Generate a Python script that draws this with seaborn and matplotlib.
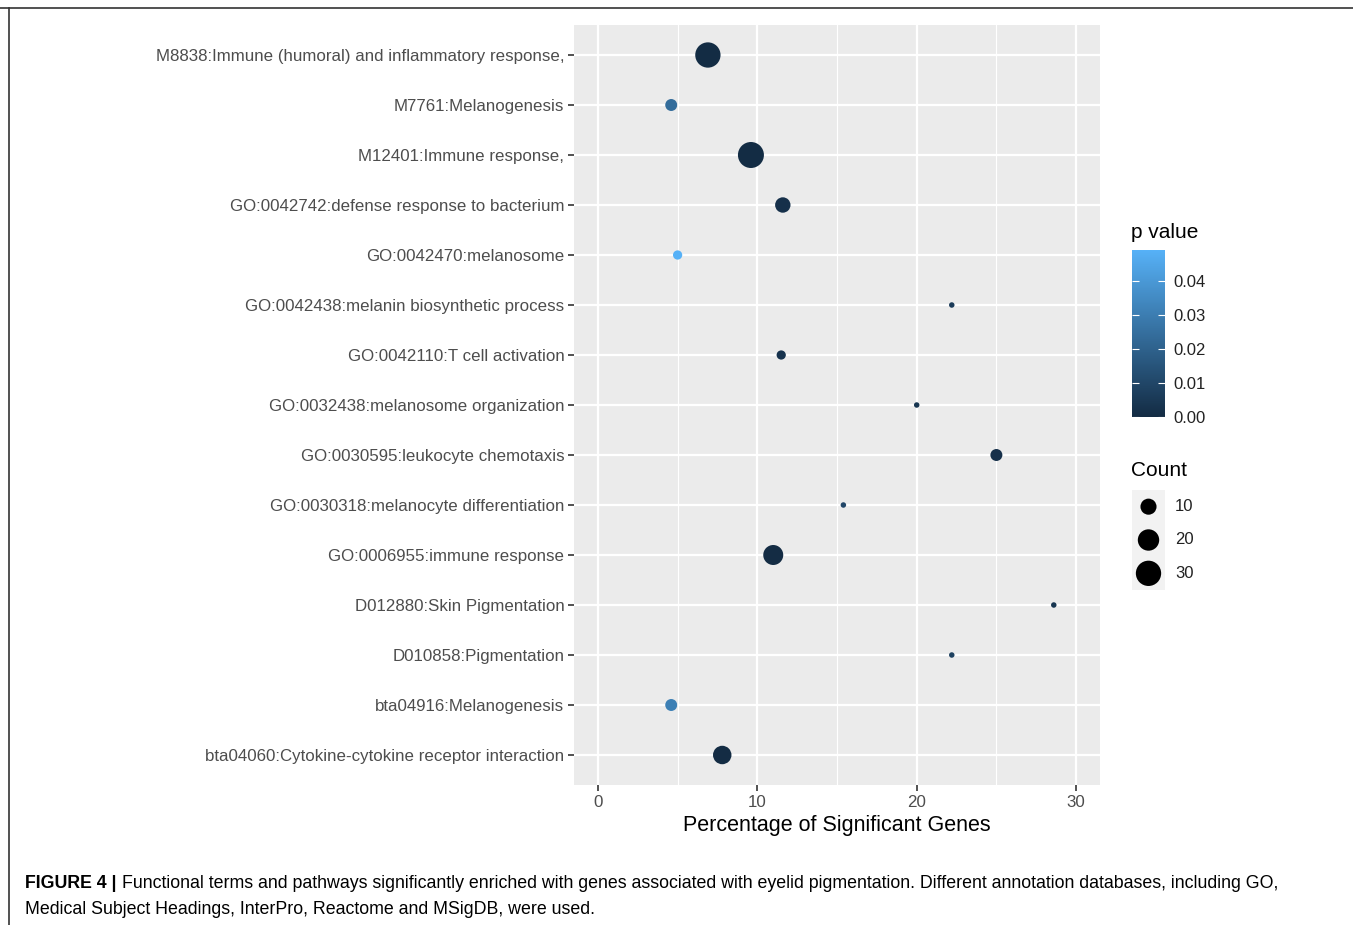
import numpy as np
import pandas as pd
import matplotlib
matplotlib.use("Agg")
import matplotlib.pyplot as plt
from matplotlib.colors import LinearSegmentedColormap, Normalize
import matplotlib.cm as mcm
import seaborn as sns

terms = [
    "M8838:Immune (humoral) and inflammatory response,",
    "M7761:Melanogenesis",
    "M12401:Immune response,",
    "GO:0042742:defense response to bacterium",
    "GO:0042470:melanosome",
    "GO:0042438:melanin biosynthetic process",
    "GO:0042110:T cell activation",
    "GO:0032438:melanosome organization",
    "GO:0030595:leukocyte chemotaxis",
    "GO:0030318:melanocyte differentiation",
    "GO:0006955:immune response",
    "D012880:Skin Pigmentation",
    "D010858:Pigmentation",
    "bta04916:Melanogenesis",
    "bta04060:Cytokine-cytokine receptor interaction",
]
percentage = [6.9, 4.6, 9.6, 11.6, 5.0, 22.2, 11.5, 20.0, 25.0, 15.4, 11.0, 28.6, 22.2, 4.6, 7.8]
counts = [30, 5, 32, 9, 3, 2, 3, 2, 5, 2, 17, 2, 2, 5, 14]
pvalues = [0.0003, 0.024, 0.0002, 0.002, 0.049, 0.006, 0.003, 0.004, 0.002, 0.010, 0.0004, 0.004, 0.008, 0.031, 0.0005]
legend_counts = [10, 20, 30]
pv_ticks = [0.00, 0.01, 0.02, 0.03, 0.04]

df = pd.DataFrame({"term": terms, "pct": percentage, "count": counts, "p": pvalues})

W, H, DPI = 1353, 925, 100
fig = plt.figure(figsize=(W / DPI, H / DPI), dpi=DPI)
plt.rcParams["font.family"] = ["Liberation Sans", "DejaVu Sans"]

cmap = LinearSegmentedColormap.from_list("gg", ["#132B43", "#56B1F7"])
pmin, pmax = 0.0, max(pvalues)
norm = Normalize(pmin, pmax)

# size mapping like ggplot's area palette (diameter in px -> points^2)
cmin, cmax = min(counts), max(counts)
dmin_px, dmax_px = 5.5, 26.0
def size_of(c):
    t = (c - cmin) / (cmax - cmin)
    d_px = dmin_px + (dmax_px - dmin_px) * np.sqrt(max(t, 0))
    d_pt = d_px * 72 / DPI
    return d_pt ** 2
size_dict = {c: size_of(c) for c in sorted(set(counts) | set(legend_counts))}

def px_axes(x0, y0, x1, y1):
    return fig.add_axes([x0 / W, 1 - y1 / H, (x1 - x0) / W, (y1 - y0) / H])

ax = px_axes(574, 25, 1100, 785)
ax.set_facecolor("#EBEBEB")
for s in ax.spines.values():
    s.set_visible(False)

sns.scatterplot(data=df, x="pct", y="term", hue="p", palette=cmap, hue_norm=(pmin, pmax),
                size="count", sizes=size_dict, legend=False, linewidth=0, ax=ax, zorder=3)

n = len(terms)
ax.set_xlim(-1.5, 31.5)
ax.set_ylim(n - 1 + 0.6, -0.6)
ax.set_xticks([0, 10, 20, 30])
ax.set_xticks([5, 15, 25], minor=True)
ax.set_yticks(range(n))
ax.set_yticklabels(terms)
ax.grid(True, which="major", color="white", linewidth=1.6, zorder=0)
ax.grid(True, which="minor", axis="x", color="white", linewidth=0.8, zorder=0)
ax.set_axisbelow(True)
ax.tick_params(axis="both", which="major", length=4, width=1.2, color="#333333",
               labelsize=12.2, labelcolor="#4D4D4D", pad=3)
ax.tick_params(axis="x", which="minor", length=0)
ax.set_xlabel("Percentage of Significant Genes", fontsize=15.5, color="black", labelpad=4)
ax.set_ylabel("")

# colour bar
cax = px_axes(1132, 250, 1165, 417)
sm = mcm.ScalarMappable(norm=norm, cmap=cmap)
cb = fig.colorbar(sm, cax=cax)
cb.outline.set_visible(False)
cb.set_ticks(pv_ticks)
cb.set_ticklabels([f"{v:.2f}" for v in pv_ticks])
cax.tick_params(axis="y", which="major", direction="in", length=5, width=0.8, color="white",
                left=True, right=True, labelsize=12, labelcolor="#222222", pad=6)
fig.text(1131 / W, 1 - 232 / H, "p value", fontsize=15, va="center", ha="left")

# size legend
fig.text(1131 / W, 1 - 471 / H, "Count", fontsize=15, va="center", ha="left")
lax = px_axes(1132, 490, 1165, 590)
lax.set_facecolor("#F2F2F2")
for s in lax.spines.values():
    s.set_visible(False)
leg_df = pd.DataFrame({"x": [0, 0, 0], "y": [0, 1, 2], "count": legend_counts})
sns.scatterplot(data=leg_df, x="x", y="y", size="count", sizes=size_dict, color="black",
                linewidth=0, legend=False, ax=lax)
lax.set_xlim(-1, 1)
lax.set_ylim(2.5, -0.5)
lax.set_xticks([])
lax.set_yticks([])
lax.set_xlabel("")
lax.set_ylabel("")
for i, c in enumerate(legend_counts):
    lax.text(1.6, i, str(c), fontsize=12, va="center", ha="left", color="#222222",
             transform=lax.transData, clip_on=False)

# figure frame lines
fig.add_artist(plt.Line2D([0, 1], [1 - 8 / H, 1 - 8 / H], color="#333333", linewidth=1.2))
fig.add_artist(plt.Line2D([9 / W, 9 / W], [1 - 8 / H, 0], color="#333333", linewidth=1.2))

# caption
fig.text(25 / W, 1 - 884 / H, "FIGURE 4 |", fontsize=12.8, fontweight="bold", va="center", ha="left")
fig.text(122 / W, 1 - 884 / H,
         "Functional terms and pathways significantly enriched with genes associated with eyelid pigmentation. Different annotation databases, including GO,",
         fontsize=12.8, va="center", ha="left")
fig.text(25 / W, 1 - 909 / H, "Medical Subject Headings, InterPro, Reactome and MSigDB, were used.",
         fontsize=12.8, va="center", ha="left")

fig.savefig("out.png", dpi=DPI)
